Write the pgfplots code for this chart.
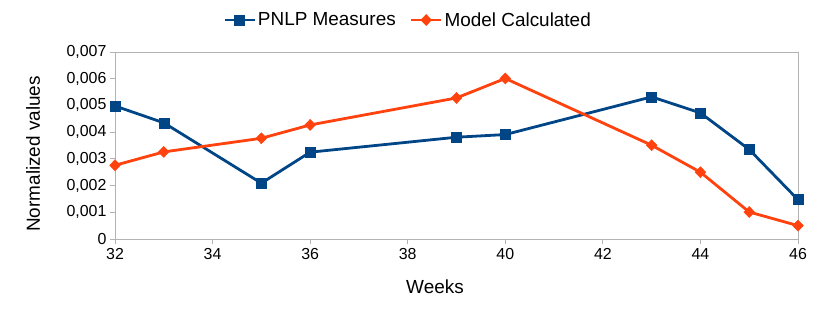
\documentclass[border=0pt]{standalone}
\usepackage{pgfplots}
\pgfplotsset{compat=1.18}
\usepackage{fontspec}
\setmainfont{Liberation Sans}
\definecolor{cblue}{HTML}{004586}
\definecolor{corange}{HTML}{FF420E}
\definecolor{cframe}{HTML}{B3B3B3}
\begin{document}
\begin{tikzpicture}[x=1bp,y=1bp]
\useasboundingbox (0,0) rectangle (824,320);
\begin{axis}[
  at={(115bp,81bp)}, anchor=south west,
  scale only axis, width=683bp, height=187bp,
  xmin=32, xmax=46, ymin=0, ymax=0.007,
  xtick={32,34,36,38,40,42,44,46},
  ytick={0,0.001,0.002,0.003,0.004,0.005,0.006,0.007},
  yticklabels={0,{0{,}001},{0{,}002},{0{,}003},{0{,}004},{0{,}005},{0{,}006},{0{,}007}},
  scaled y ticks=false,
  /pgf/number format/assume math mode=true,
  axis line style={cframe, line width=0.8bp},
  tick style={cframe, line width=0.8bp},
  tick align=outside, major tick length=5bp,
  xtick pos=bottom, ytick pos=left,
  tick label style={font=\fontsize{16}{16}\selectfont, black},
  xticklabel style={yshift=-1bp},
  label style={font=\fontsize{19}{19}\selectfont},
  xlabel={Weeks}, ylabel={Normalized values},
  xlabel style={at={(axis description cs:0.4685,-0.257)}, anchor=center},
  ylabel style={at={(axis description cs:-0.12,0.455)}, anchor=center},
  clip=false,
  legend style={at={(axis description cs:0.429,1.171)}, anchor=center, draw=none,
    font=\fontsize{19}{19}\selectfont, legend columns=2,
    /tikz/every even column/.append style={column sep=12bp},
    inner sep=0pt},
  legend cell align=left,
  legend image code/.code={\draw[mark repeat=2,mark phase=2] plot coordinates {(0bp,0bp) (15bp,0bp) (30bp,0bp)};},
]
\addplot[cblue, line width=2.8bp, mark=square*, mark size=5bp, mark options={line width=0.5bp}] coordinates {
(32,0.00498)(33,0.00435)(35,0.00209)(36,0.00325)(39,0.00381)(40,0.00391)(43,0.00532)(44,0.00472)(45,0.00335)(46,0.00147)};
\addlegendentry{PNLP Measures}
\addplot[corange, line width=2.8bp, mark=diamond*, mark size=5.5bp, mark options={line width=0.5bp, xscale=1.3}] coordinates {
(32,0.00276)(33,0.00326)(35,0.00377)(36,0.00427)(39,0.00528)(40,0.00601)(43,0.00351)(44,0.00250)(45,0.00101)(46,0.00050)};
\addlegendentry{Model Calculated}
\end{axis}
\end{tikzpicture}
\end{document}
